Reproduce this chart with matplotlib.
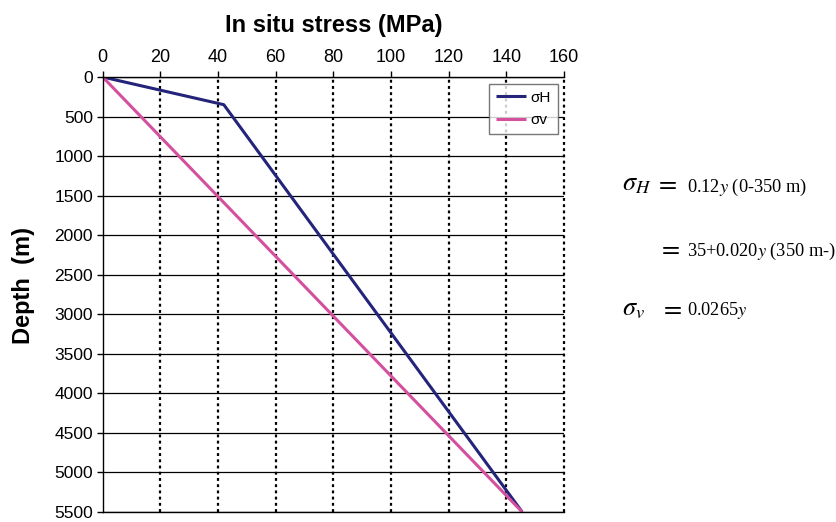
import matplotlib.pyplot as plt
import numpy as np

# Datos
depth_h = [0, 350, 5500]
stress_h = [0, 42, 145.5]
depth_v = [0, 5500]
stress_v = [0, 145.5]

x_ticks = [0, 20, 40, 60, 80, 100, 120, 140, 160]
y_ticks = [0, 500, 1000, 1500, 2000, 2500, 3000, 3500, 4000, 4500, 5000, 5500]

navy = '#24247a'
pink = '#d4509f'

plt.rcParams['font.family'] = ['Liberation Sans', 'DejaVu Sans']
plt.rcParams['mathtext.fontset'] = 'stix'

W, H = 837, 522
fig = plt.figure(figsize=(W / 100, H / 100), dpi=100)
# ejes: x=0 en 102.7 px, x=160 en 564 px; y=0 en 77 px, y=5500 en 512 px
ax = fig.add_axes([102.7 / W, 1 - 512 / H, (564 - 102.7) / W, (512 - 77) / H])

ax.plot(stress_h, depth_h, color=navy, linewidth=2.2, label='σH', solid_capstyle='butt')
ax.plot(stress_v, depth_v, color=pink, linewidth=2.2, label='σv', solid_capstyle='butt')

ax.set_xlim(0, 160)
ax.set_ylim(5500, 0)
ax.set_xticks(x_ticks)
ax.set_yticks(y_ticks)
ax.xaxis.tick_top()
ax.xaxis.set_label_position('top')
ax.tick_params(axis='x', which='major', direction='out', length=4, width=1,
               labelsize=13, pad=4, top=True, bottom=False)
ax.tick_params(axis='y', which='major', direction='out', length=4, width=1,
               labelsize=12.5, pad=3)

# Rejilla: horizontales continuas, verticales punteadas
for yv in y_ticks:
    ax.axhline(yv, color='black', linewidth=0.9, zorder=0.5)
for xv in x_ticks[1:]:
    ax.axvline(xv, color='black', linewidth=1.6, linestyle=(0, (1.3, 1.5)),
               zorder=0.5, clip_on=False)

for side in ['top', 'bottom', 'left']:
    ax.spines[side].set_linewidth(1.0)
ax.spines['right'].set_visible(False)

ax.set_xlabel('In situ stress (MPa)', fontsize=17, fontweight='bold', labelpad=12)
ax.set_ylabel('Depth  (m)', fontsize=17, fontweight='bold')
ax.yaxis.set_label_coords(-0.147, 0.52)

leg = ax.legend(loc='upper right', bbox_to_anchor=(0.987, 0.984), fontsize=11,
                frameon=True, fancybox=False, handlelength=2.0, handletextpad=0.3,
                borderpad=0.45, labelspacing=0.55, borderaxespad=0.0)
leg.get_frame().set_edgecolor('#555555')
leg.get_frame().set_linewidth(1.0)

# Formulas a la derecha
serif = ['Liberation Serif', 'DejaVu Serif']
def px(x, y):
    return x / W, 1 - y / H

fig.text(*px(622, 190), r'$\sigma_H$', fontsize=19, va='baseline')
fig.text(*px(655, 190), r'$=$', fontsize=19, va='baseline')
fig.text(*px(687, 192), r'0.12$y$ (0-350 m)', fontsize=13.2, family=serif, va='baseline')
fig.text(*px(658, 255), r'$=$', fontsize=19, va='baseline')
fig.text(*px(687, 256), r'35+0.020$y$ (350 m-)', fontsize=13.2, family=serif, va='baseline')
fig.text(*px(622, 315), r'$\sigma_v$', fontsize=19, va='baseline')
fig.text(*px(660, 315), r'$=$', fontsize=19, va='baseline')
fig.text(*px(687, 315), r'0.0265$y$', fontsize=13.2, family=serif, va='baseline')

fig.savefig('out.png', dpi=100)
plt.close(fig)
